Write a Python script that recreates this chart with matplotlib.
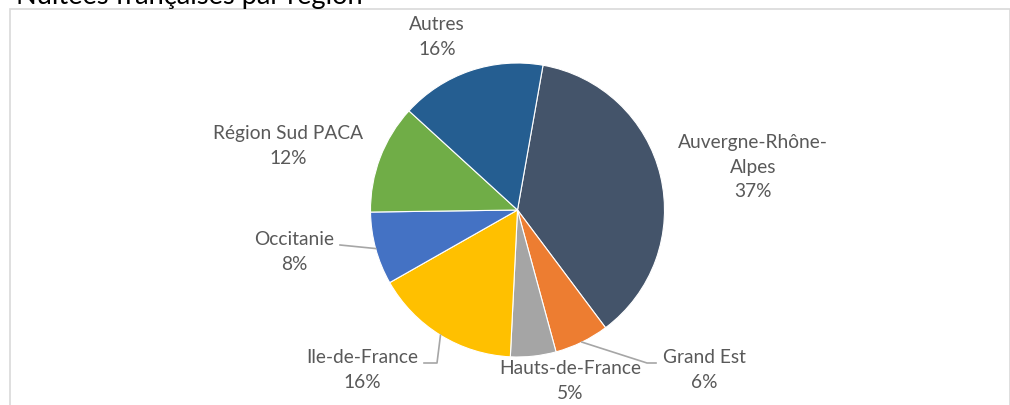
import numpy as np
import matplotlib.pyplot as plt
from matplotlib.patches import Rectangle

plt.rcParams['font.family'] = ['Lato', 'DejaVu Sans']

regions = ['Auvergne-Rhône-\nAlpes', 'Grand Est', 'Hauts-de-France', 'Ile-de-France',
           'Occitanie', 'Région Sud PACA', 'Autres']
shares = [37, 6, 5, 16, 8, 12, 16]
colors = ['#44546A', '#ED7D31', '#A5A5A5', '#FFC000', '#4472C4', '#70AD47', '#255E91']

W, H = 1010, 405
fig = plt.figure(figsize=(W / 100, H / 100), dpi=100)
ax = fig.add_axes([0, 0, 1, 1])

# pixel coords, y up (py() converts from top-down pixels)
def py(y):
    return H - y

cx, cy, r = 517.5, py(210), 147
wedges, _ = ax.pie(shares, colors=colors, startangle=80, counterclock=False,
                   center=(cx, cy), radius=r,
                   wedgeprops=dict(edgecolor='white', linewidth=0.8))
ax.set_xlim(0, W)
ax.set_ylim(0, H)
ax.set_aspect('equal')
ax.axis('off')

# label centre positions (px from top-left)
label_pos = [(753, 167), (704, 370), (570, 381), (362, 370),
             (294, 252), (288, 146), (437, 37)]
txt = '#595959'
for name, v, (lx, ly) in zip(regions, shares, label_pos):
    ax.text(lx, py(ly), f'{name}\n{v}%', ha='center', va='center', color=txt,
            fontsize=13.8, linespacing=1.55)

def edge_point(w):
    a = np.deg2rad((w.theta1 + w.theta2) / 2)
    return cx + r * np.cos(a), cy + r * np.sin(a)

lc = '#A6A6A6'
# Grand Est
ex, ey = edge_point(wedges[1])
ax.plot([ex, 647, 656], [ey, py(363), py(363)], color=lc, lw=1.2)
# Ile-de-France
ex, ey = edge_point(wedges[3])
ax.plot([ex, 437, 424], [ey, py(363), py(363)], color=lc, lw=1.2)
# Occitanie
ex, ey = edge_point(wedges[4])
ax.plot([ex, 340], [ey, py(245)], color=lc, lw=1.2)

# title (cut off at the top, as in the source) and chart frame
fig.text(16 / W, 1 - 4 / H, 'Nuitées françaises par région', fontsize=19.6,
         color='#000000', va='baseline', ha='left')
fig.patches.append(Rectangle((9.5 / W, -0.1), 1000 / W, 1.1 - 8.5 / H,
                             transform=fig.transFigure, fill=False,
                             edgecolor='#D9D9D9', lw=1.2))

fig.savefig('out.png', dpi=100)
